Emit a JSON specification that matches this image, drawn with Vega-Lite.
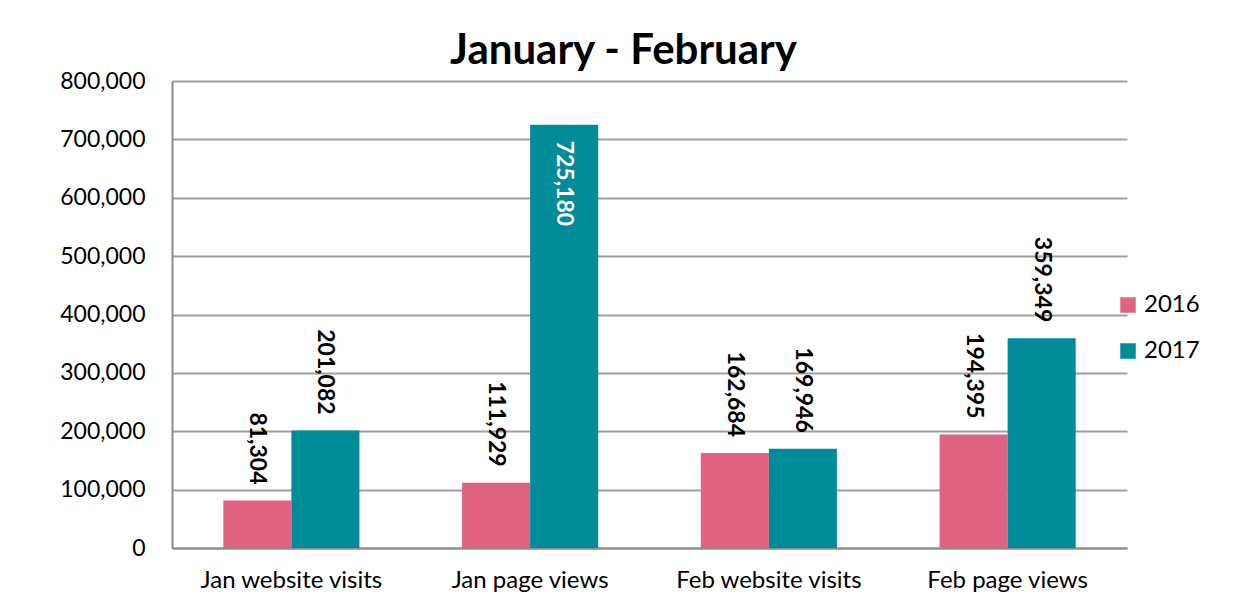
{
  "$schema": "https://vega.github.io/schema/vega-lite/v6.json",
  "autosize": "none",
  "width": 955,
  "height": 467,
  "padding": {"left": 172, "top": 81, "right": 117, "bottom": 62},
  "background": "white",
  "title": {
    "text": "January - February",
    "font": "Lato",
    "fontSize": 42,
    "fontWeight": "bold",
    "color": "#000000",
    "anchor": "middle",
    "baseline": "alphabetic",
    "offset": 9,
    "dy": 45,
    "dx": -26
  },
  "config": {
    "view": {"stroke": null},
    "font": "Lato"
  },
  "data": {
    "values": [
      {"category": "Jan website visits", "year": "2016", "value": 81304},
      {"category": "Jan website visits", "year": "2017", "value": 201082},
      {"category": "Jan page views", "year": "2016", "value": 111929},
      {"category": "Jan page views", "year": "2017", "value": 725180},
      {"category": "Feb website visits", "year": "2016", "value": 162684},
      {"category": "Feb website visits", "year": "2017", "value": 169946},
      {"category": "Feb page views", "year": "2016", "value": 194395},
      {"category": "Feb page views", "year": "2017", "value": 359349}
    ]
  },
  "encoding": {
    "x": {
      "field": "category",
      "type": "nominal",
      "sort": ["Jan website visits", "Jan page views", "Feb website visits", "Feb page views"],
      "scale": {"paddingInner": 0.43, "paddingOuter": 0.215},
      "axis": {
        "title": null,
        "labelAngle": 0,
        "labelFont": "Lato",
        "labelFontSize": 24,
        "labelColor": "#000000",
        "labelPadding": 20,
        "labelLimit": 0,
        "ticks": false,
        "domainColor": "#8C8C8C",
        "domainWidth": 2
      }
    },
    "xOffset": {"field": "year", "type": "nominal"},
    "y": {
      "field": "value",
      "type": "quantitative",
      "scale": {"domain": [0, 800000]},
      "axis": {
        "title": null,
        "values": [0, 100000, 200000, 300000, 400000, 500000, 600000, 700000, 800000],
        "format": ",d",
        "labelFont": "Lato",
        "labelFontSize": 23,
        "labelColor": "#000000",
        "labelPadding": 27,
        "ticks": false,
        "domainColor": "#8C8C8C",
        "domainWidth": 2,
        "gridColor": "#A0A0A0",
        "gridWidth": 2
      }
    }
  },
  "layer": [
    {
      "mark": {"type": "bar"},
      "encoding": {
        "color": {
          "field": "year",
          "type": "nominal",
          "scale": {"domain": ["2016", "2017"], "range": ["#E06381", "#008B98"]},
          "legend": {
            "title": null,
            "orient": "none",
            "legendX": 944,
            "legendY": 212,
            "symbolType": "square",
            "symbolSize": 240,
            "symbolStrokeWidth": 0,
            "symbolOpacity": 1,
            "labelFont": "Lato",
            "labelFontSize": 24,
            "labelColor": "#000000",
            "labelOffset": 4,
            "rowPadding": 22
          }
        }
      }
    },
    {
      "transform": [{"filter": "datum.value < 700000"}],
      "mark": {
        "type": "text",
        "angle": 90,
        "align": "right",
        "baseline": "middle",
        "dx": -16,
        "font": "Lato",
        "fontSize": 23,
        "fontWeight": "bold",
        "color": "#000000"
      },
      "encoding": {
        "text": {"field": "value", "type": "quantitative", "format": ",d"}
      }
    },
    {
      "transform": [{"filter": "datum.value >= 700000"}],
      "mark": {
        "type": "text",
        "angle": 90,
        "align": "left",
        "baseline": "middle",
        "dx": 16,
        "font": "Lato",
        "fontSize": 23,
        "fontWeight": "bold",
        "color": "#FFFFFF"
      },
      "encoding": {
        "text": {"field": "value", "type": "quantitative", "format": ",d"}
      }
    }
  ]
}
